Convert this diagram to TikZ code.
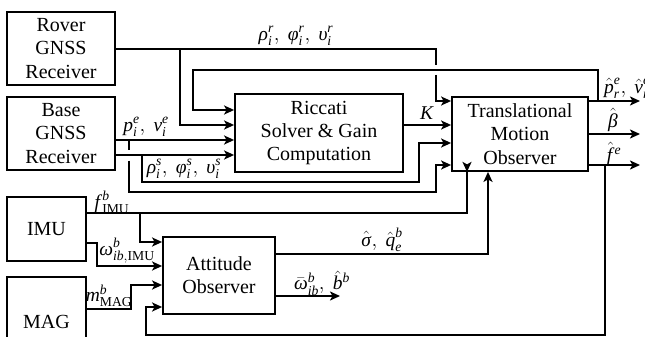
\documentclass[tikz,border=0pt]{standalone}
\usepackage{amsmath}
\usepackage{fontspec}
\setmainfont{Liberation Serif}
\usetikzlibrary{arrows.meta}
\newcommand\mi[1]{\text{\itshape #1\/}}
\newcommand\mup[1]{\text{\upshape #1}}
\tikzset{
  blk/.style={draw, line width=1.8pt, align=center, inner sep=0pt,
    font=\fontsize{20}{23.3}\selectfont},
  wire/.style={line width=2.1pt},
  arr/.style={wire, -{Stealth[length=10pt,width=9pt,inset=2.5pt]}},
  lbl/.style={inner sep=0pt, font=\fontsize{19.5}{23}\selectfont}
}
\begin{document}
\begin{tikzpicture}[x=1pt,y=-1pt]
\useasboundingbox (0,0) rectangle (645,337);
% blocks
\node[blk, minimum width=108pt, minimum height=73pt] (rover) at (61,48.5) {Rover\\GNSS\\Receiver};
\node[blk, minimum width=108pt, minimum height=73pt] (base) at (61,133.5) {Base\\GNSS\\Receiver};
\node[blk, minimum width=168pt, minimum height=78pt] (ric) at (319,133) {Riccati\\Solver \& Gain\\Computation};
\node[blk, minimum width=136pt, minimum height=74pt] (tmo) at (520,134) {Translational\\Motion\\Observer};
\node[blk, minimum width=79pt, minimum height=64pt] (imu) at (46.5,229) {IMU};
\node[blk, minimum width=79pt, minimum height=90pt] (mag) at (46.5,322) {MAG};
\node[blk, minimum width=112pt, minimum height=77pt] (att) at (219,275.5) {Attitude\\Observer};
% junction / waypoint coordinates
\coordinate (rj) at (180,49);
\coordinate (rc1) at (436,49);
\coordinate (rc2) at (436,65);
\coordinate (rc3) at (436,75);
\coordinate (fbj) at (598,101);
\coordinate (outp) at (640,101);
\coordinate (outb) at (640,134);
\coordinate (outf) at (640,165);
\coordinate (fej) at (605,165);
\coordinate (bj1) at (129,140);
\coordinate (bj2) at (142,155);
\coordinate (ij) at (140,213);
\coordinate (attout) at (340,296);
% Rover measurements
\draw[wire] (rover.east |- rc1) -- (rc1) -- (rc2);
\draw[arr] (rc3) -- (436,101) -- (tmo.west |- 0,101);
\draw[arr] (rj) -- (180,125) -- (ric.west |- 0,125);
% Translational outputs
\draw[arr] (tmo.east |- outp) -- (outp);
\draw[arr] (tmo.east |- outb) -- (outb);
\draw[arr] (tmo.east |- outf) -- (outf);
% feedback of position to Riccati
\draw[arr] (fbj) -- (598,70) -- (193,70) -- (193,110) -- (ric.west |- 0,110);
% Base measurements
\draw[arr] (base.east |- bj1) -- (ric.west |- bj1);
\draw[arr] (base.east |- bj2) -- (ric.west |- bj2);
\draw[wire] (bj1) -- (129,149.5);
\draw[arr] (129,160.5) -- (129,192) -- (436,192) -- (436,165) -- (tmo.west |- 0,165);
\draw[arr] (bj2) -- (142,182) -- (419,182) -- (419,143) -- (tmo.west |- 0,143);
% gain
\draw[arr] (ric.east |- 0,125) -- (tmo.west |- 0,125);
% IMU
\draw[arr] (imu.east |- ij) -- (467,213) -- (467,171) -- (tmo.south -| 467,0);
\draw[arr] (ij) -- (140,242) -- (att.west |- 0,242);
\draw[arr] (imu.east |- 0,243) -- (97,243) -- (97,266) -- (att.west |- 0,266);
% MAG
\draw[arr] (mag.east |- 0,309) -- (131,309) -- (131,285) -- (att.west |- 0,285);
% attitude outputs
\draw[arr] (att.east |- 0,254) -- (488,254) -- (tmo.south -| 488,0);
\draw[arr] (att.east |- attout) -- (attout);
% f^e feedback to attitude
\draw[arr] (fej) -- (605,335) -- (146,335) -- (146,307) -- (att.west |- 0,307);
% labels
\node[lbl] (l1) at (296,36) {$\mi{ρ}_{\mi{i}}^{\mi{r}},\ \mi{φ}_{\mi{i}}^{\mi{r}},\ \mi{υ}_{\mi{i}}^{\mi{r}}$};
\node[lbl] (l2) at (146,127) {$\mi{p}_{\mi{i}}^{\mi{e}},\ \mi{v}_{\mi{i}}^{\mi{e}}$};
\node[lbl] (l3) at (184,169) {$\mi{ρ}_{\mi{i}}^{\mi{s}},\ \mi{φ}_{\mi{i}}^{\mi{s}},\ \mi{υ}_{\mi{i}}^{\mi{s}}$};
\node[lbl] (l4) at (427,113) {$\mi{K}$};
\node[lbl, anchor=west] (l5) at (604,88) {$\hat{\mi{p}}_{\mi{r}}^{\mi{e}},\ \hat{\mi{v}}_{\mi{r}}^{\mi{e}}$};
\node[lbl] (l6) at (613,120) {$\hat{\mi{β}}$};
\node[lbl] (l7) at (614,154) {$\hat{\mi{f}}{}^{\mi{e}}$};
\node[lbl] (l8) at (112,202) {$\mi{f}^{\mi{b}}_{\mup{IMU}}$};
\node[lbl] (l9) at (127,251) {$\mi{ω}^{\mi{b}}_{\mi{ib},\mup{IMU}}$};
\node[lbl] (l10) at (109,296) {$\mi{m}^{\mi{b}}_{\mup{MAG}}$};
\node[lbl] (l11) at (382,240) {$\hat{\mi{σ}},\ \hat{\mi{q}}_{\mi{e}}^{\mi{b}}$};
\node[lbl] (l12) at (322,283) {$\bar{\mi{ω}}{}^{\mi{b}}_{\mi{ib}},\ \hat{\mi{b}}{}^{\mi{b}}$};
\end{tikzpicture}
\end{document}
